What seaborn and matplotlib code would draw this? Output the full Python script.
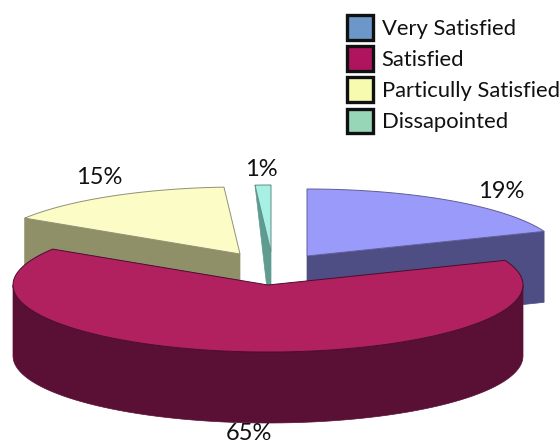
import numpy as np
import matplotlib
matplotlib.use('Agg')
import matplotlib.pyplot as plt
from matplotlib.patches import Patch
import seaborn as sns

# Chart values
categories = ['Very Satisfied', 'Satisfied', 'Particully Satisfied', 'Dissapointed']
percent = [19, 65, 15, 1]

# Colours per slice
top_colors = ['#9A9AFB', '#B2215F', '#FCFCC6', '#A6F0E4']
side_colors = ['#4E4E84', '#5A0F35', '#8F8F68', '#5F9C90']
legend_colors = ['#6C97C9', '#B0145F', '#F7FBAF', '#98D6B8']

# Apex of each exploded slice, in image pixels
apex_x = [307, 268, 240, 271]
apex_y = [256, 285, 254, 252]
label_x = [501, 249, 99, 261]
label_y = [192, 434, 177, 169]

RX, RY = 255, 67
DEPTH = 71

sns.set_theme(style='white')
plt.rcParams['font.family'] = ['Lato', 'DejaVu Sans']

fig, ax = plt.subplots(figsize=(5.6, 4.45), dpi=100)
ax.set_position([0, 0, 1, 1])
ax.set_xlim(0, 560)
ax.set_ylim(445, 0)
ax.axis('off')


def arc(i, start, stop, n=80):
    t = np.radians(np.linspace(start, stop, n))
    return apex_x[i] + RX * np.cos(t), apex_y[i] - RY * np.sin(t)


# slice angles, clockwise from 12 o'clock
stops = 90 - np.cumsum(percent) * 3.6
starts = np.r_[90, stops[:-1]]


def draw_face(i):
    x, y = arc(i, starts[i], stops[i])
    ax.fill(np.r_[apex_x[i], x], np.r_[apex_y[i], y], facecolor=top_colors[i],
            edgecolor=sns.dark_palette(top_colors[i], 3)[1], linewidth=0.7, zorder=i + 3)


def draw_cut(i, angle, far_depth=DEPTH):
    # the flat cut side that faces the viewer
    x, y = arc(i, angle, angle, 1)
    xs = [x[0], apex_x[i], apex_x[i], x[0]]
    ys = [y[0], apex_y[i], apex_y[i] + DEPTH, y[0] + far_depth]
    ax.fill(xs, ys, facecolor=side_colors[i], edgecolor=side_colors[i], linewidth=0.5, zorder=2)


draw_cut(0, stops[0])                    # blue, right hand cut
draw_face(0)
draw_cut(2, starts[2])                   # yellow, left hand cut
draw_face(2)
draw_cut(3, starts[3], far_depth=0)      # thin slice, back corner has no visible drop
draw_face(3)

# big slice drawn last, it covers the others
x, y = arc(1, 180, 360)
ax.fill(np.r_[x, x[::-1]], np.r_[y, y[::-1] + DEPTH], facecolor=side_colors[1],
        edgecolor=side_colors[1], linewidth=0.5, zorder=10)
x, y = arc(1, starts[1], stops[1], 160)
ax.fill(np.r_[apex_x[1], x], np.r_[apex_y[1], y], facecolor=top_colors[1],
        edgecolor='#4A0D2C', linewidth=0.7, zorder=11)

for i, p in enumerate(percent):
    ax.text(label_x[i], label_y[i], f'{p}%', ha='center', va='center', fontsize=17,
            color='#111111', zorder=20)

handles = [Patch(facecolor=c, edgecolor='#111111', linewidth=2.4) for c in legend_colors]
ax.legend(handles, categories, loc='upper left', bbox_to_anchor=(347 / 560, 1 - 15 / 445),
          frameon=False, fontsize=15.8, handlelength=1.2, handleheight=1.35, handletextpad=0.38,
          labelspacing=0.3, borderpad=0, borderaxespad=0, labelcolor='#111111')

fig.savefig('out.png', dpi=100)
